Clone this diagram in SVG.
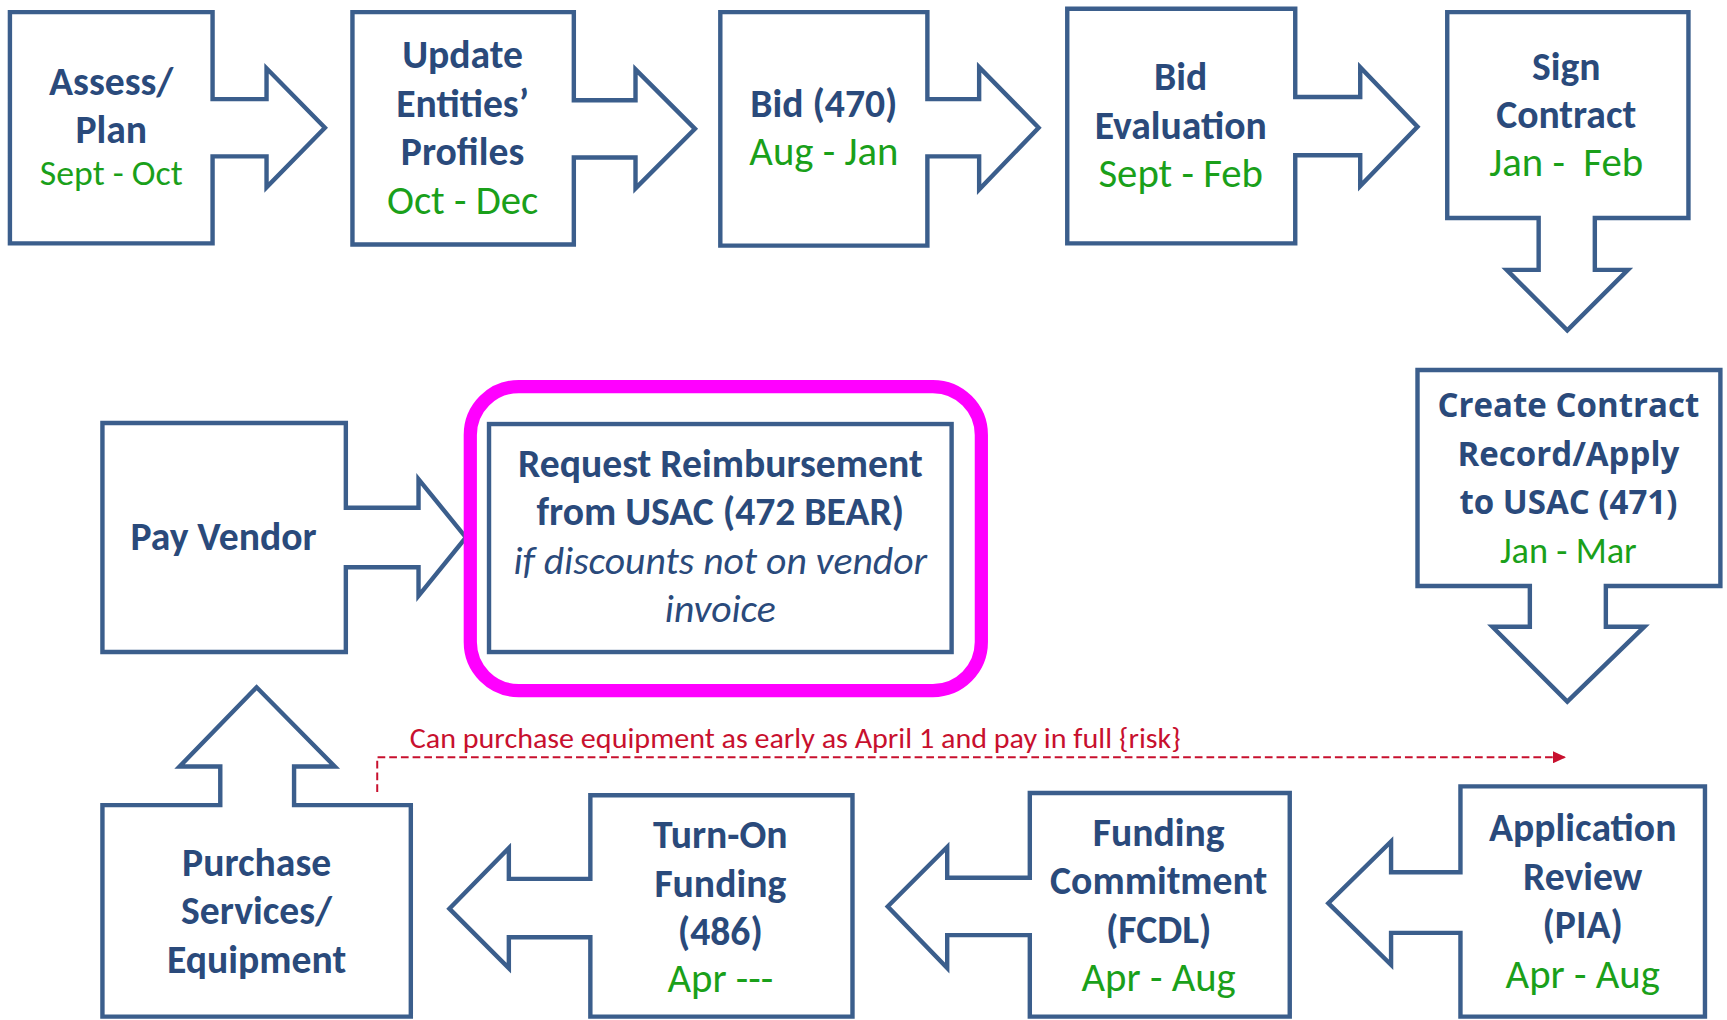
<svg xmlns="http://www.w3.org/2000/svg" width="1727" height="1020" viewBox="0 0 1727 1020">
<style>
.box{fill:#fff;stroke:#3B5E8C;stroke-width:4;stroke-linejoin:miter}
.t{font-family:Carlito,Lato,"Liberation Sans",sans-serif;font-weight:700;fill:#2A4A7B;text-anchor:middle;font-size:36px}
.g{font-weight:400;fill:#1AA01A;font-size:37px}
.i{font-weight:400;font-style:italic}
.s{font-family:"Open Sans","Noto Sans",sans-serif;font-weight:700;font-size:30px}
.note{font-family:Carlito,Lato,"Liberation Sans",sans-serif;font-size:25.5px;fill:#C8102E}
</style>
<defs>
<marker id="ah" markerWidth="12" markerHeight="11" refX="12" refY="5.5" orient="auto" markerUnits="userSpaceOnUse">
<path d="M0,0 L12,5.5 L0,11 Z" fill="#C8102E"/>
</marker>
</defs>
<rect width="1727" height="1020" fill="#fff"/>
<g transform="scale(1.1014)">
<g id="n1">
<path class="box" d="M9,11 H193 V90 H242 V62 L295,116 L242,170 V142 H193 V221 H9 Z"/>
<text class="t" x="101" y="86">Assess/</text>
<text class="t" x="101" y="130">Plan</text>
<text class="t g" x="101" y="168" style="font-size:32.5px">Sept - Oct</text>
</g>
<g id="n2">
<path class="box" d="M320,11 H521 V91 H577 V63 L631,117 L577,171 V143 H521 V222 H320 Z"/>
<text class="t" x="420" y="62">Update</text>
<text class="t" x="420" y="106">Entities’</text>
<text class="t" x="420" y="150">Profiles</text>
<text class="t g" x="420" y="194">Oct - Dec</text>
</g>
<g id="n3">
<path class="box" d="M654,11 H842 V90 H889 V61 L943,116 L889,172 V142 H842 V223 H654 Z"/>
<text class="t" x="748" y="106">Bid (470)</text>
<text class="t g" x="748" y="150">Aug - Jan</text>
</g>
<g id="n4">
<path class="box" d="M969,8 H1176 V88 H1235 V61 L1287,115 L1235,169 V141 H1176 V221 H969 Z"/>
<text class="t" x="1072" y="82">Bid</text>
<text class="t" x="1072" y="126">Evaluation</text>
<text class="t g" x="1072" y="170">Sept - Feb</text>
</g>
<g id="n5">
<path class="box" d="M1314,11 H1533 V198 H1448 V245 H1478 L1423,300 L1368,245 H1397 V198 H1314 Z"/>
<text class="t" x="1422" y="73">Sign</text>
<text class="t" x="1422" y="116">Contract</text>
<text class="t g" x="1422" y="160" xml:space="preserve">Jan -  Feb</text>
</g>
<g id="n6">
<path class="box" d="M1287,336 H1562 V532 H1458 V569 H1493 L1423,637 L1355,569 H1389 V532 H1287 Z"/>
<text class="t s" x="1424" y="379">Create Contract</text>
<text class="t s" x="1424" y="423">Record/Apply</text>
<text class="t s" x="1424" y="467">to USAC (471)</text>
<text class="t g" x="1424" y="511" style="font-size:33px">Jan - Mar</text>
</g>
<g id="n7">
<path class="box" d="M93,384 H314 V461 H380 V435 L423,488 L380,541 V515 H314 V592 H93 Z"/>
<text class="t" x="203" y="499">Pay Vendor</text>
</g>
<g id="n8">
<rect class="box" x="444" y="385" width="420" height="207"/>
<text class="t" x="654" y="433">Request Reimbursement</text>
<text class="t" x="654" y="477">from USAC (472 BEAR)</text>
<text class="t i" x="654" y="521">if discounts not on vendor</text>
<text class="t i" x="654" y="565">invoice</text>
</g>
<g id="highlight">
<rect x="427" y="351" width="464" height="276" rx="44" ry="44" fill="none" stroke="#FF00FF" stroke-width="12"/>
</g>
<g id="n9">
<path class="box" d="M93,923 V731 H200 V696 H163 L233,624 L304,696 H267 V731 H373 V923 Z"/>
<text class="t" x="233" y="795">Purchase</text>
<text class="t" x="233" y="839">Services/</text>
<text class="t" x="233" y="883">Equipment</text>
</g>
<g id="n10">
<path class="box" d="M774,722 V923 H536 V851 H462 V879 L408,825 L462,770 V798 H536 V722 Z"/>
<text class="t" x="654" y="770">Turn-On</text>
<text class="t" x="654" y="814">Funding</text>
<text class="t" x="654" y="858">(486)</text>
<text class="t g" x="654" y="901">Apr ---</text>
</g>
<g id="n11">
<path class="box" d="M1171,720 V923 H935 V849 H860 V879 L806,823 L860,769 V797 H935 V720 Z"/>
<text class="t" x="1052" y="768">Funding</text>
<text class="t" x="1052" y="812">Commitment</text>
<text class="t" x="1052" y="856">(FCDL)</text>
<text class="t g" x="1052" y="900">Apr - Aug</text>
</g>
<g id="n12">
<path class="box" d="M1548,714 V923 H1326 V847 H1263 V876 L1206,820 L1263,764 V792 H1326 V714 Z"/>
<text class="t" x="1437" y="764">Application</text>
<text class="t" x="1437" y="808">Review</text>
<text class="t" x="1437" y="852">(PIA)</text>
<text class="t g" x="1437" y="897">Apr - Aug</text>
</g>
<g id="connectors">
<path d="M342.5,719 V687.5 H1422" fill="none" stroke="#C8102E" stroke-width="1.8" stroke-dasharray="7,3.6" marker-end="url(#ah)"/>
<text class="note" x="372" y="679" textLength="700" lengthAdjust="spacingAndGlyphs">Can purchase equipment as early as April 1 and pay in full {risk}</text>
</g>
</g>
</svg>
